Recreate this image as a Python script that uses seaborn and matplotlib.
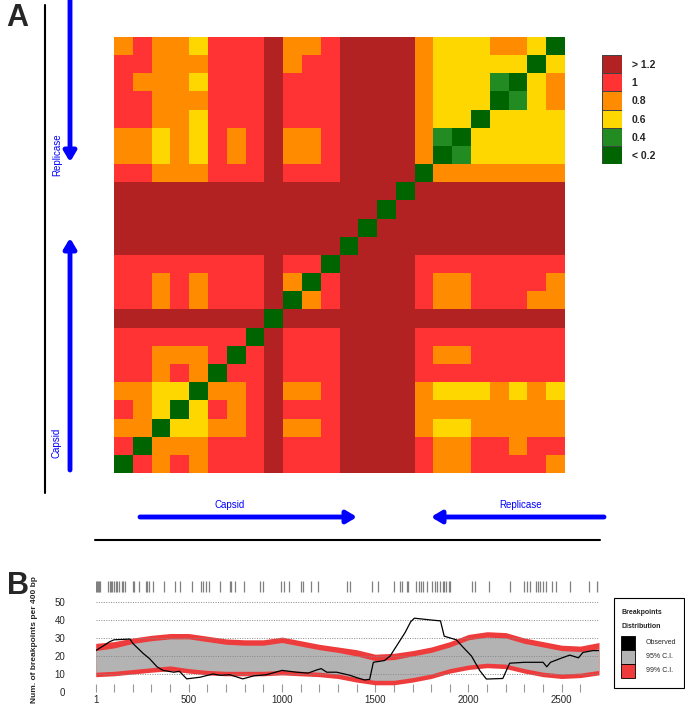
import numpy as np
import pandas as pd
import matplotlib
matplotlib.use('Agg')
import matplotlib.pyplot as plt
from matplotlib.colors import ListedColormap, BoundaryNorm
from matplotlib.patches import Rectangle
import seaborn as sns

# --- panel A: similarity matrix, one string per row (top to bottom)
# D = >1.2, R = 1, O = 0.8, Y = 0.6, G = 0.4, K = <0.2
rows = [
    "OROOYRRRDOORDDDDOYYYOOYK",
    "RROOORRRDORRDDDDOYYYYYKY",
    "ROOOYRRRDRRRDDDDOYYYGKYO",
    "RROOORRRDRRRDDDDOYYYKGYO",
    "RROOYRRRDRRRDDDDOYYKYYYY",
    "OOYOYRORDOORDDDDOGKYYYYY",
    "OOYOYRORDOORDDDDOKGYYYYY",
    "RROOORRRDRRRDDDDKOOOOOOO",
    "DDDDDDDDDDDDDDDKDDDDDDDD",
    "DDDDDDDDDDDDDDKDDDDDDDDD",
    "DDDDDDDDDDDDDKDDDDDDDDDD",
    "DDDDDDDDDDDDKDDDDDDDDDDD",
    "RRRRRRRRDRRKDDDDRRRRRRRR",
    "RRORORRRDOKRDDDDROORRRRO",
    "RRORORRRDKORDDDDROORRROO",
    "DDDDDDDDKDDDDDDDDDDDDDDD",
    "RRRRRRRKDRRRDDDDRRRRRRRR",
    "RROOORKRDRRRDDDDROORRRRR",
    "RRORO KRRDRRRDDDDRRRRRRRR".replace(" ", ""),
    "OOYYKOORDOORDDDDOYYYOYOY",
    "ROYKYRORDRRRDDDDOOOOOOOO",
    "OOKYYOORDOORDDDDOYYOOOOO",
    "RKOOORRRDRRRDDDDROORRORR",
    "KRORORRRDRRRDDDDROORRRRO",
]
code_val = {'D': 1.3, 'R': 1.0, 'O': 0.8, 'Y': 0.6, 'G': 0.4, 'K': 0.1}

legend_labels = ['> 1.2', '1', '0.8', '0.6', '0.4', '< 0.2']
legend_vals = [1.3, 1.0, 0.8, 0.6, 0.4, 0.1]

# --- panel B: breakpoint distribution
breakpoints = [3, 6, 12, 19, 26, 69, 76, 83, 90, 99, 108, 117, 126, 140, 149, 160,
               202, 208, 231, 271, 278, 288, 310, 367, 428, 453, 515, 565, 578, 590,
               607, 667, 720, 729, 749, 795, 882, 896, 994, 1012, 1037, 1101, 1114,
               1153, 1194, 1346, 1364, 1483, 1515, 1601, 1632, 1641, 1668, 1676,
               1721, 1734, 1744, 1757, 1775, 1807, 1819, 1832, 1846, 1861, 1871,
               1882, 1893, 1901, 2021, 2034, 2110, 2221, 2298, 2314, 2332, 2364,
               2375, 2386, 2400, 2414, 2448, 2472, 2543, 2645, 2689, 2698]

ci_pos = [1, 100, 200, 300, 400, 500, 600, 700, 800, 900, 1000, 1100, 1200, 1300,
          1400, 1500, 1600, 1700, 1800, 1900, 2000, 2100, 2200, 2300, 2400, 2500,
          2600, 2700]
ci99_hi = [27, 28, 30, 31.5, 32.5, 32.5, 31, 29.5, 29, 29, 30.5, 28.5, 26.5, 25,
           23.5, 21, 21.5, 23, 25, 28, 32, 33.5, 33, 30, 28, 26, 25.5, 27.5]
ci95_hi = [23, 24.5, 27, 28.5, 29.5, 29.5, 28, 26.5, 26, 26, 27.5, 25.5, 23.5, 22,
           20, 17.5, 18, 20, 22, 25, 29, 30.5, 30, 27, 25, 23, 22.5, 24]
ci95_lo = [11, 11.5, 12.5, 13.5, 14.5, 13, 12, 11.5, 11.5, 11.5, 12, 11.5, 11, 10,
           8, 6.5, 6.5, 8, 10, 13, 15, 16, 15.5, 13, 11, 10, 10.5, 12]
ci99_lo = [8.5, 9, 10, 11, 11.8, 10.5, 9.5, 9, 9, 9, 9.5, 9, 8.5, 7.5,
           5.5, 4, 4, 5.5, 7.5, 10.5, 12.5, 13.5, 13, 10.5, 8.5, 7.5, 8, 9.5]

obs_pos = [1, 40, 77, 100, 185, 200, 255, 290, 330, 362, 420, 450, 489, 560, 630,
           670, 720, 790, 850, 917, 1000, 1078, 1140, 1185, 1210, 1240, 1293, 1364,
           1400, 1442, 1470, 1490, 1550, 1580, 1620, 1660, 1690, 1710, 1800, 1850,
           1870, 1935, 1970, 2016, 2060, 2096, 2184, 2221, 2300, 2400, 2420, 2440,
           2490, 2543, 2590, 2614, 2667, 2700]
obs_val = [23, 25.5, 28, 29, 29.4, 27, 21.5, 18.5, 14, 12, 11, 11.5, 7.3, 8.2, 10,
           9.3, 9.6, 7.3, 9, 9.6, 12, 11, 10.5, 12.2, 13, 11, 11, 9.3,
           8, 6.7, 7, 16.5, 17.5, 20, 26.5, 33, 39, 41, 40, 39.5,
           31, 29, 25, 20, 12, 7.2, 7.5, 16, 16.5, 16.5, 14, 16.5,
           18.5, 20.5, 19, 22, 23, 23]

sns.set_theme(style='white')
plt.rcParams['font.family'] = ['Liberation Sans', 'DejaVu Sans']

W, H = 685, 709
fig = plt.figure(figsize=(W / 100, H / 100), dpi=100)


def box(x0, y0, x1, y1):
    return [x0 / W, 1 - y1 / H, (x1 - x0) / W, (y1 - y0) / H]


cmap = ListedColormap(['#006400', '#228B22', '#FFD700', '#FF8C00', '#FF3333', '#B22222'])
norm = BoundaryNorm([0, 0.3, 0.5, 0.7, 0.9, 1.1, 1.5], cmap.N)

# heatmap
mat = pd.DataFrame([[code_val[c] for c in r] for r in rows])
ax = fig.add_axes(box(114, 37, 565, 473))
sns.heatmap(mat, cmap=cmap, norm=norm, cbar=False, xticklabels=False,
            yticklabels=False, ax=ax)

# colour key
lax = fig.add_axes(box(602, 55, 622, 164))
sns.heatmap(pd.DataFrame({'v': legend_vals}), cmap=cmap, norm=norm, cbar=False,
            linewidths=0.6, linecolor='#444444', xticklabels=False,
            yticklabels=legend_labels, ax=lax)
lax.yaxis.tick_right()
lax.tick_params(axis='y', length=0, pad=7, labelsize=7.5, labelrotation=0)
for t in lax.get_yticklabels():
    t.set_fontweight('bold')

# panel B
bx = fig.add_axes(box(95.7, 580.4, 599, 692))
bx.fill_between(ci_pos, ci99_lo, ci99_hi, color='#EE3B3B', lw=0, zorder=1)
bx.fill_between(ci_pos, ci95_lo, ci95_hi, color='#B3B3B3', lw=0, zorder=1.5)
for v in range(0, 60, 10):
    bx.axhline(v, color='#888888', lw=0.7, ls=(0, (1, 1.5)), zorder=2)
sns.lineplot(x=obs_pos, y=obs_val, color='black', lw=0.9, ax=bx, zorder=3)
bx.vlines(breakpoints, 55.5, 61.5, color='#808080', lw=0.9)
bx.set_xlim(1, 2700)
bx.set_ylim(0, 62)
bx.set_yticks(range(0, 60, 10))
bx.set_xticks([1, 500, 1000, 1500, 2000, 2500])
bx.set_xticks(range(100, 2700, 100), minor=True)
bx.tick_params(axis='y', length=0, pad=22, labelsize=7)
bx.tick_params(axis='x', which='both', direction='in', length=5.5, width=0.8,
               color='#999999', pad=2, labelsize=7, bottom=True)
for s in bx.spines.values():
    s.set_visible(False)
bx.set_xlabel('')
bx.set_ylabel('')
fig.text(35 / W, 1 - 640 / H, 'Num. of breakpoints per 400 bp', rotation=90,
         ha='center', va='center', fontsize=6, fontweight='bold')

# overlay for arrows, frame lines and labels
ov = fig.add_axes([0, 0, 1, 1])
ov.set_xlim(0, W)
ov.set_ylim(H, 0)
ov.axis('off')
ov.plot([45, 45], [5, 493], color='black', lw=1.5)
ov.plot([95, 600], [540, 540], color='black', lw=1.5)
arrow = dict(arrowstyle='-|>,head_length=0.5,head_width=0.3', color='blue', lw=3.5,
             shrinkA=0, shrinkB=0)
ov.annotate('', xy=(70, 162), xytext=(70, 0), arrowprops=arrow)
ov.annotate('', xy=(70, 238), xytext=(70, 470), arrowprops=arrow)
ov.annotate('', xy=(357, 517), xytext=(140, 517), arrowprops=arrow)
ov.annotate('', xy=(431, 517), xytext=(604, 517), arrowprops=arrow)
ov.text(57, 155, 'Replicase', rotation=90, color='blue', ha='center', va='center', fontsize=7)
ov.text(57, 443, 'Capsid', rotation=90, color='blue', ha='center', va='center', fontsize=7)
ov.text(230, 505, 'Capsid', color='blue', ha='center', va='center', fontsize=7)
ov.text(521, 505, 'Replicase', color='blue', ha='center', va='center', fontsize=7)
ov.text(17, 18, 'A', fontsize=22, fontweight='bold', ha='center', va='center')
ov.text(18, 586, 'B', fontsize=22, fontweight='bold', ha='center', va='center')

# legend of panel B
ov.add_patch(Rectangle((614, 598), 70, 90, fill=False, edgecolor='black', lw=0.8))
ov.text(622, 612, 'Breakpoints', fontsize=5, fontweight='bold', va='center')
ov.text(622, 626, 'Distribution', fontsize=5, fontweight='bold', va='center')
for i, (c, lab) in enumerate([('black', 'Observed'), ('#B3B3B3', '95% C.I.'),
                              ('#EE3B3B', '99% C.I.')]):
    ov.add_patch(Rectangle((621, 636 + 14 * i), 14, 14, facecolor=c,
                           edgecolor='black', lw=0.6))
    ov.text(646, 643 + 14 * i, lab, fontsize=5, va='center')

fig.savefig('out.png', dpi=100)
